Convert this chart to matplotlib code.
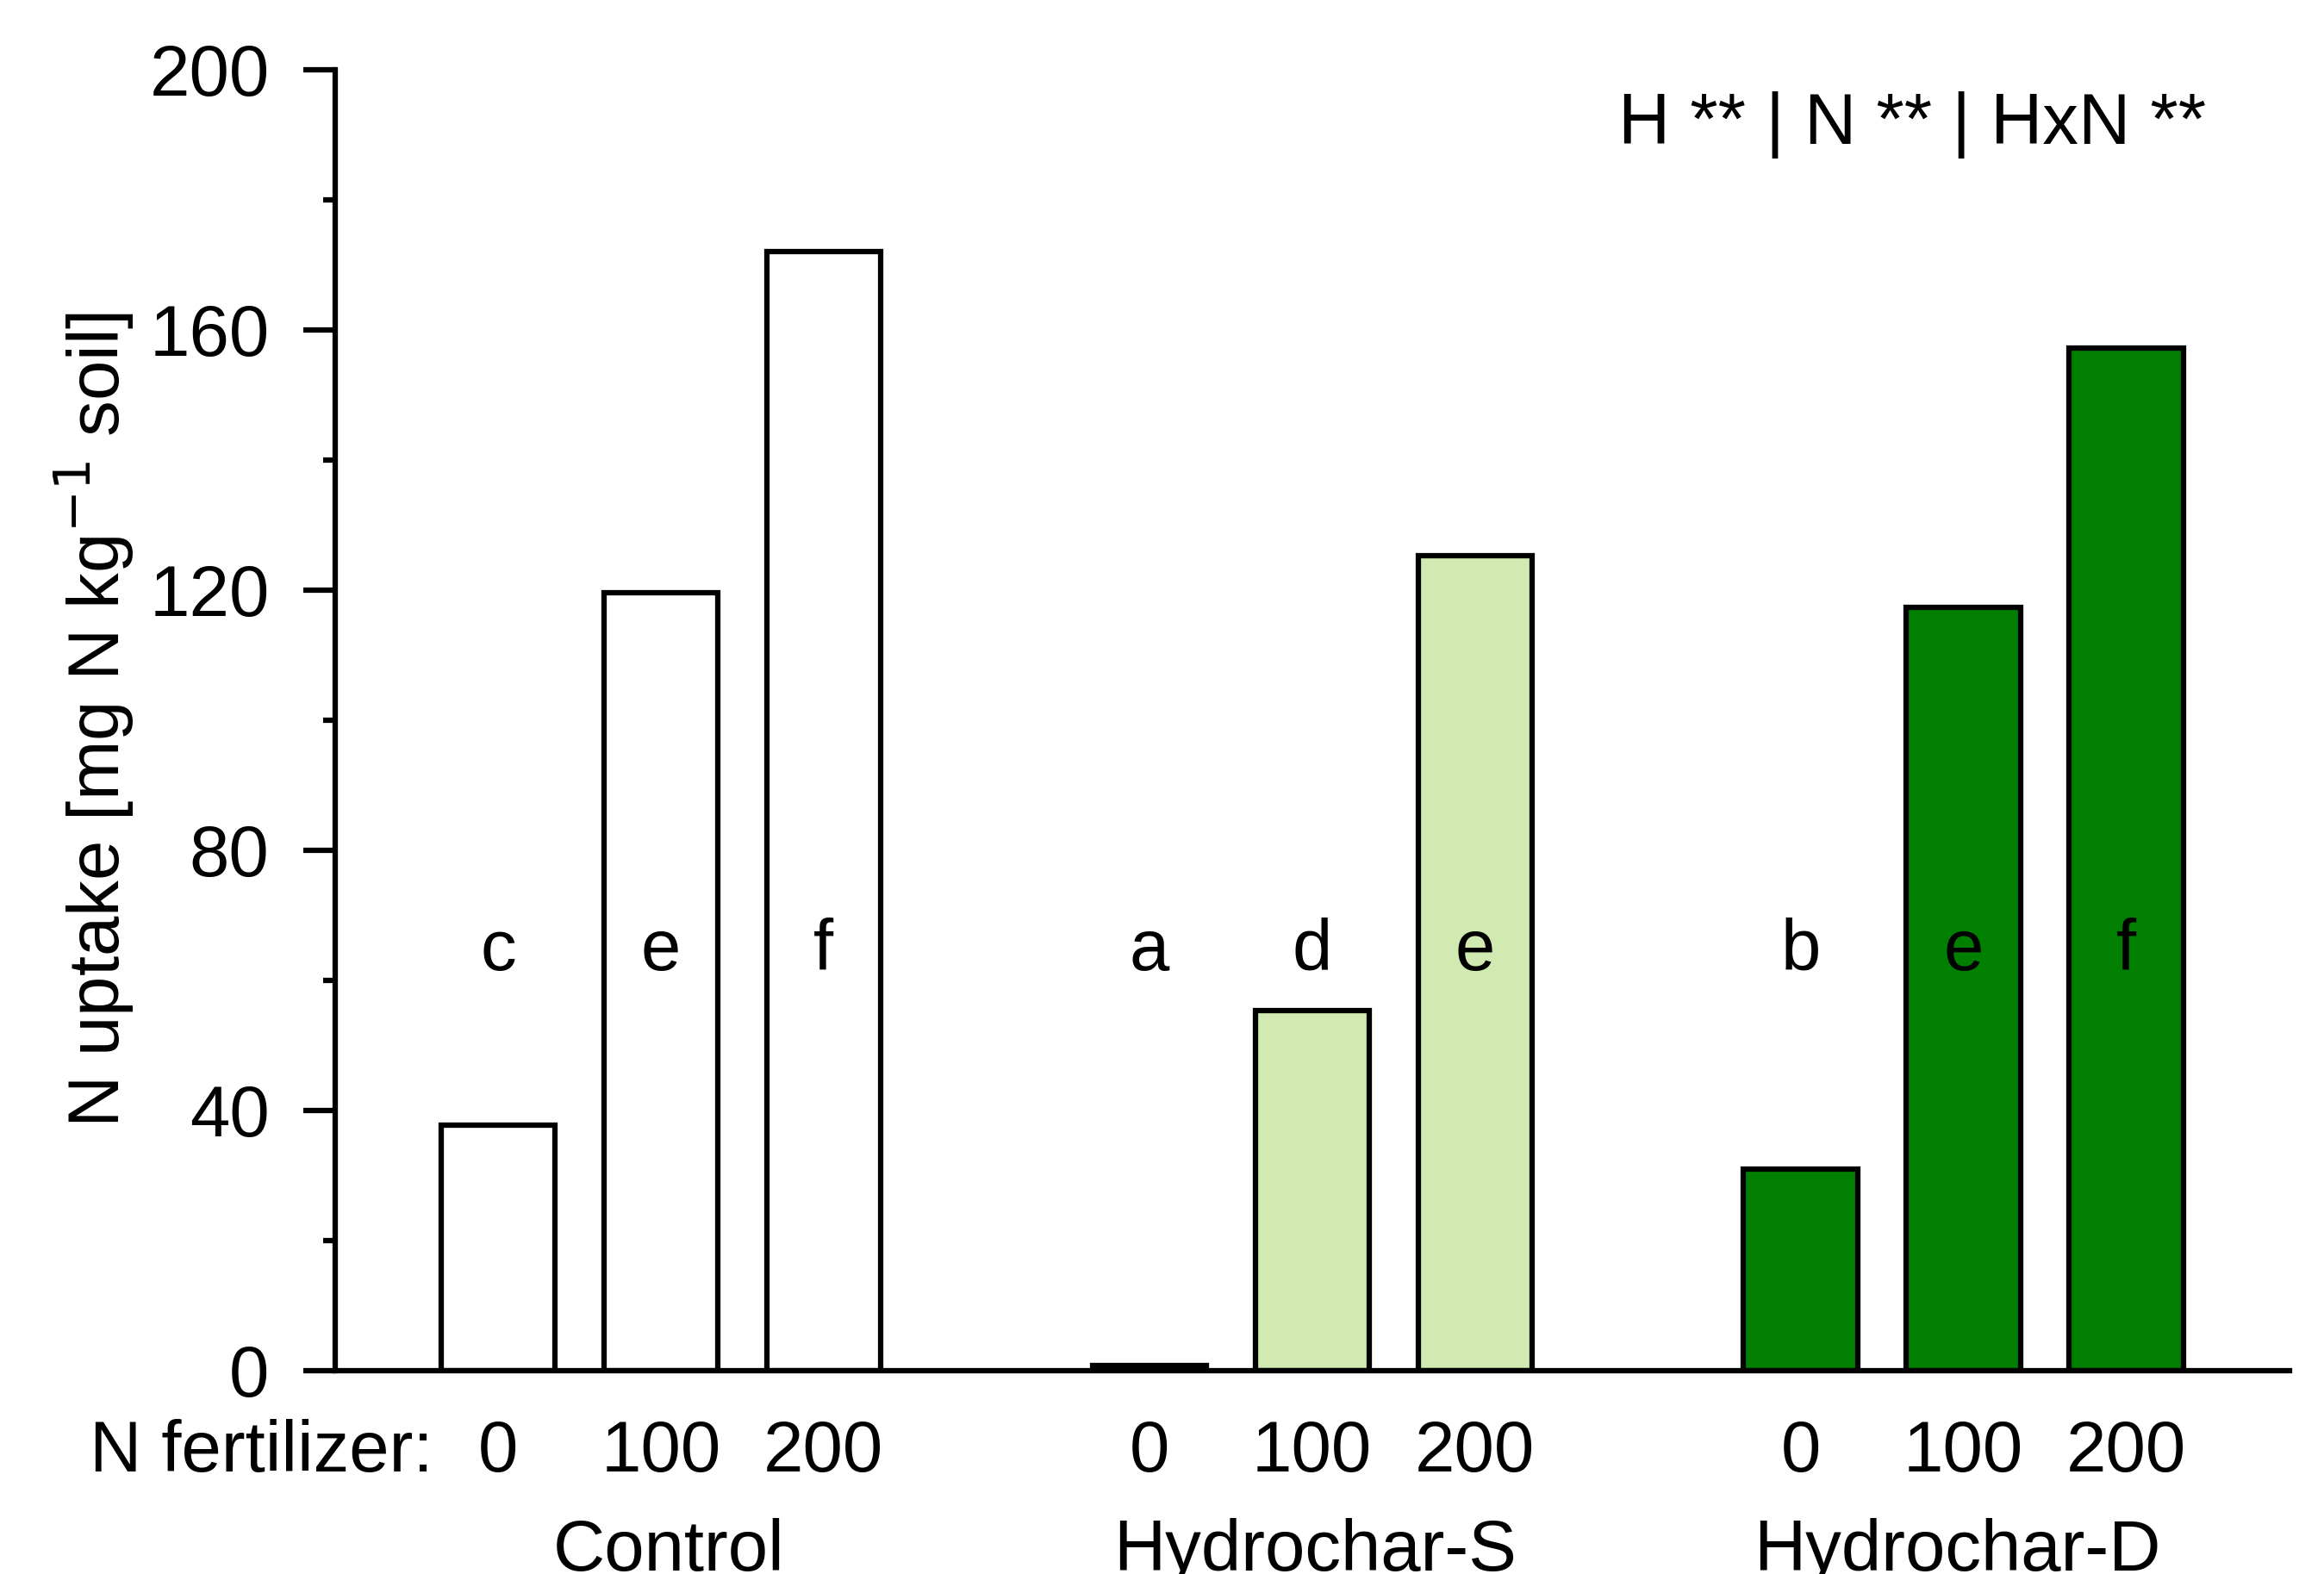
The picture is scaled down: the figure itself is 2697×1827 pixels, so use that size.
import numpy as np
import matplotlib.pyplot as plt
from matplotlib.ticker import MultipleLocator

plt.rcParams["font.family"] = ["Liberation Sans", "DejaVu Sans"]

# data
groups = ["Control", "Hydrochar-S", "Hydrochar-D"]
n_levels = ["0", "100", "200"]
control = [37.8, 119.6, 172.0]
hydro_s = [0.8, 55.4, 125.3]
hydro_d = [31.0, 117.3, 157.2]
letters = ["c", "e", "f", "a", "d", "e", "b", "e", "f"]
stats_text = "H ** | N ** | HxN **"

colors = ["white", "#d0eab2", "#007f00"]
group_shift = [0.05, 0.02, -0.04]  # small nudges of the group names

fig = plt.figure(figsize=(26.97, 18.27), dpi=100)
ax = fig.add_axes([0.1442, 0.1292, 0.8408, 0.8265])

fs = 60
lw = 4.5
for g, vals in enumerate([control, hydro_s, hydro_d]):
    x = np.arange(3) + 4 * g
    ax.bar(x, vals, width=0.7, color=colors[g], edgecolor="black", linewidth=lw, zorder=2)
    for i, xi in enumerate(x):
        ax.text(xi, 64.5, letters[3 * g + i], ha="center", va="center", fontsize=fs)
        ax.text(xi, -12.6, n_levels[i], ha="center", va="center", fontsize=fs, clip_on=False)
    ax.text(x[1] + group_shift[g], -27.8, groups[g], ha="center", va="center",
            fontsize=fs, clip_on=False)

ax.text(-0.4, -12.6, "N fertilizer:", ha="right", va="center", fontsize=fs, clip_on=False)
ax.text(10.49, 191.5, stats_text, ha="right", va="center", fontsize=fs)

ax.set_xlim(-1, 11)
ax.set_ylim(0, 200)
ax.spines["top"].set_visible(False)
ax.spines["right"].set_visible(False)
ax.spines["left"].set_linewidth(lw)
ax.spines["bottom"].set_linewidth(lw)
ax.set_xticks([])
ax.yaxis.set_major_locator(MultipleLocator(40))
ax.yaxis.set_minor_locator(MultipleLocator(20))
ax.tick_params(axis="y", which="major", length=27, width=lw, labelsize=fs, pad=28)
ax.tick_params(axis="y", which="minor", length=10, width=lw)
ax.set_ylabel("N uptake [mg N kg$^{-1}$ soil]", fontsize=fs, labelpad=11)

fig.savefig("out.png", dpi=100)
